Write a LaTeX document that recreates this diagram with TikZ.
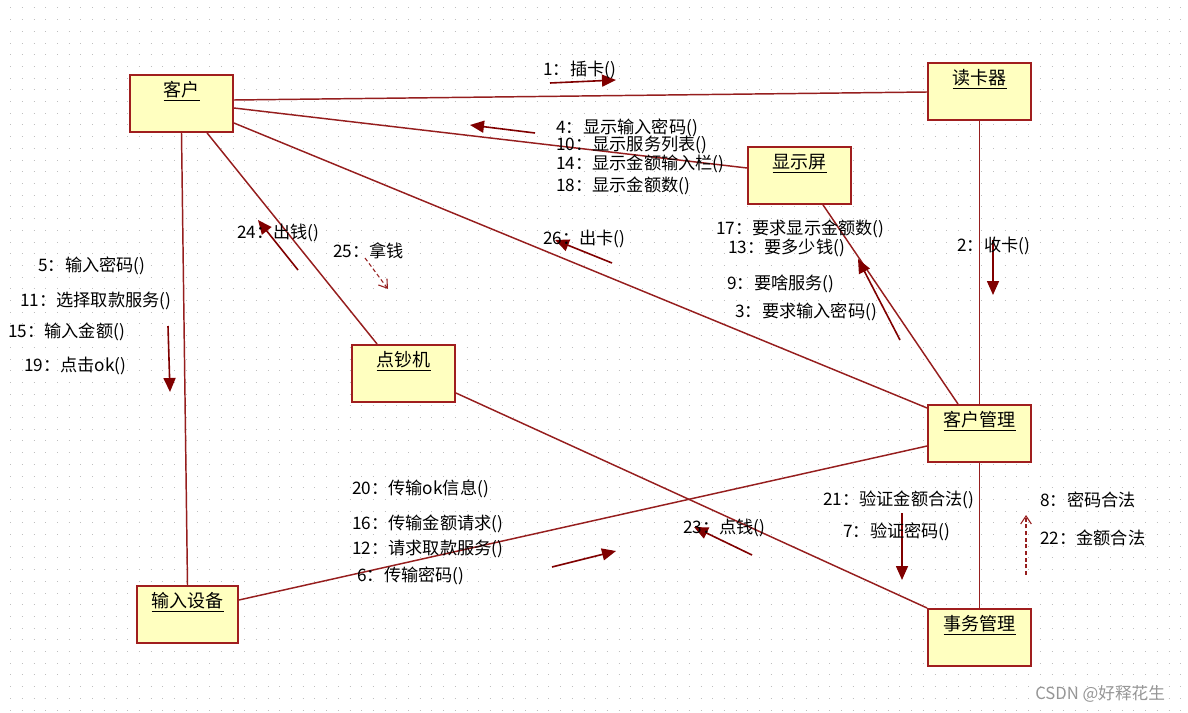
\documentclass[tikz,border=0pt]{standalone}
\usepackage{fontspec}
\setmainfont{Noto Sans CJK SC}
\usetikzlibrary{arrows.meta,calc}
\definecolor{boxfill}{RGB}{255,255,192}
\definecolor{boxline}{RGB}{160,30,30}
\definecolor{conn}{RGB}{150,30,30}
\definecolor{headc}{RGB}{128,0,0}
\definecolor{dotc}{RGB}{190,190,190}
\definecolor{wm}{RGB}{150,150,150}
\begin{document}
\begin{tikzpicture}[x=0.75pt,y=-0.75pt,
  font=\fontsize{12.9pt}{15pt}\selectfont,
  obj/.style={draw=boxline, fill=boxfill, line width=1.4pt, minimum width=77.25pt,
    inner xsep=0pt, inner ysep=0pt, text height=16.5pt, text depth=26.25pt, anchor=north,
    font=\fontsize{13.5pt}{15pt}\selectfont},
  link/.style={draw=conn, line width=1.1pt},
  msg/.style={draw=headc, line width=1.2pt, -{Triangle[length=10.5pt,width=9pt]}},
  ret/.style={draw=conn, line width=0.8pt, dash pattern=on 3pt off 2pt, -{Straight Barb[length=6pt,width=8pt]}},
  lbl/.style={anchor=west, inner sep=0pt}]
\useasboundingbox (0,0) rectangle (1188,713);
\fill[white] (0,0) rectangle (1188,713);
% dotted grid
\foreach \i in {0,...,60} {
  \draw[dotc, line width=0.75pt, dash pattern=on 0.75pt off 8.025pt]
    (10.2,{8+11.7*\i}) -- (1188,{8+11.7*\i});
}
% objects
\node[obj] (kehu) at (181.5,74) {\underline{客户}};
\node[obj] (dkq) at (979.5,62) {\underline{读卡器}};
\node[obj] (xs) at (799.5,146) {\underline{显示屏}};
\node[obj] (dcj) at (403.5,344) {\underline{点钞机}};
\node[obj] (khgl) at (979.5,404) {\underline{客户管理}};
\node[obj, minimum width=75.75pt] (srsb) at (187.5,585) {\underline{输入设备}};
\node[obj] (swgl) at (979.5,608) {\underline{事务管理}};
% links
\draw[link] ($(kehu.north east)+(0,26)$) -- ($(dkq.north west)+(0,30)$);
\draw[link] ($(kehu.north east)+(0,34)$) -- ($(xs.north west)+(0,22)$);
\draw[link] ($(kehu.north east)+(0,49)$) -- ($(khgl.north west)+(0,4)$);
\draw[link] ($(kehu.south)+(25.5,0)$) -- ($(dcj.north west)+(26,0)$);
\draw[link] (kehu.south) -- (srsb.north);
\draw[link] (dkq.south) -- (khgl.north);
\draw[link] ($(xs.south)+(23.5,0)$) -- ($(khgl.north)+(-21.5,0)$);
\draw[link] ($(khgl.north west)+(0,42)$) -- ($(srsb.north east)+(0,15)$);
\draw[link] ($(dcj.north east)+(0,49)$) -- (swgl.north west);
\draw[link] (khgl.south) -- (swgl.north);
% message arrow end points
\coordinate (m1a) at (550,83);  \coordinate (m1b) at (616,80);
\coordinate (m4a) at (535,133); \coordinate (m4b) at (470,125);
\coordinate (m2a) at (993,240); \coordinate (m2b) at (993,295);
\coordinate (m3a) at (900,340); \coordinate (m3b) at (858,259);
\coordinate (m26a) at (612,263); \coordinate (m26b) at (555,240);
\coordinate (m24a) at (298,270); \coordinate (m24b) at (258,220);
\coordinate (m25a) at (365,258); \coordinate (m25b) at (388,289);
\coordinate (m5a) at (168,326); \coordinate (m5b) at (170,392);
\coordinate (m6a) at (552,567); \coordinate (m6b) at (616,551);
\coordinate (m23a) at (752,555); \coordinate (m23b) at (694,527);
\coordinate (m7a) at (902,513); \coordinate (m7b) at (902,580);
\coordinate (m8a) at (1026,575); \coordinate (m8b) at (1026,515);
\draw[msg] (m1a) -- (m1b);
\draw[msg] (m4a) -- (m4b);
\draw[msg] (m2a) -- (m2b);
\draw[msg] (m3a) -- (m3b);
\draw[msg] (m26a) -- (m26b);
\draw[msg] (m24a) -- (m24b);
\draw[ret] (m25a) -- (m25b);
\draw[msg] (m5a) -- (m5b);
\draw[msg] (m6a) -- (m6b);
\draw[msg] (m23a) -- (m23b);
\draw[msg] (m7a) -- (m7b);
\draw[ret] (m8a) -- (m8b);
% labels
\node[lbl] (t1) at (543,70) {1：插卡()};
\node[lbl] (t4) at (556,128) {4：显示输入密码()};
\node[lbl] (t10) at (556,145) {10：显示服务列表()};
\node[lbl] (t14) at (556,164) {14：显示金额输入栏()};
\node[lbl] (t18) at (556,186) {18：显示金额数()};
\node[lbl] (t17) at (716,229) {17：要求显示金额数()};
\node[lbl] (t13) at (728,248) {13：要多少钱()};
\node[lbl] (t9) at (727,284) {9：要啥服务()};
\node[lbl] (t3) at (735,312) {3：要求输入密码()};
\node[lbl] (t2) at (957,246) {2：收卡()};
\node[lbl] (t26) at (543,239) {26：出卡()};
\node[lbl] (t24) at (237,233) {24：出钱()};
\node[lbl] (t25) at (333,251) {25：拿钱};
\node[lbl] (t5) at (38,266) {5：输入密码()};
\node[lbl] (t11) at (20,301) {11：选择取款服务()};
\node[lbl] (t15) at (8,332) {15：输入金额()};
\node[lbl] (t19) at (24,366) {19：点击ok()};
\node[lbl] (t20) at (352,489) {20：传输ok信息()};
\node[lbl] (t16) at (352,524) {16：传输金额请求()};
\node[lbl] (t12) at (352,549) {12：请求取款服务()};
\node[lbl] (t6) at (357,576) {6：传输密码()};
\node[lbl] (t23) at (683,528) {23：点钱()};
\node[lbl] (t21) at (823,500) {21：验证金额合法()};
\node[lbl] (t7) at (843,532) {7：验证密码()};
\node[lbl] (t8) at (1040,500) {8：密码合法};
\node[lbl] (t22) at (1040,538) {22：金额合法};
\node[lbl, text=wm, font=\fontsize{12.5pt}{14pt}\selectfont] (wmk) at (1035,694) {CSDN @好释花生};
\end{tikzpicture}
\end{document}
